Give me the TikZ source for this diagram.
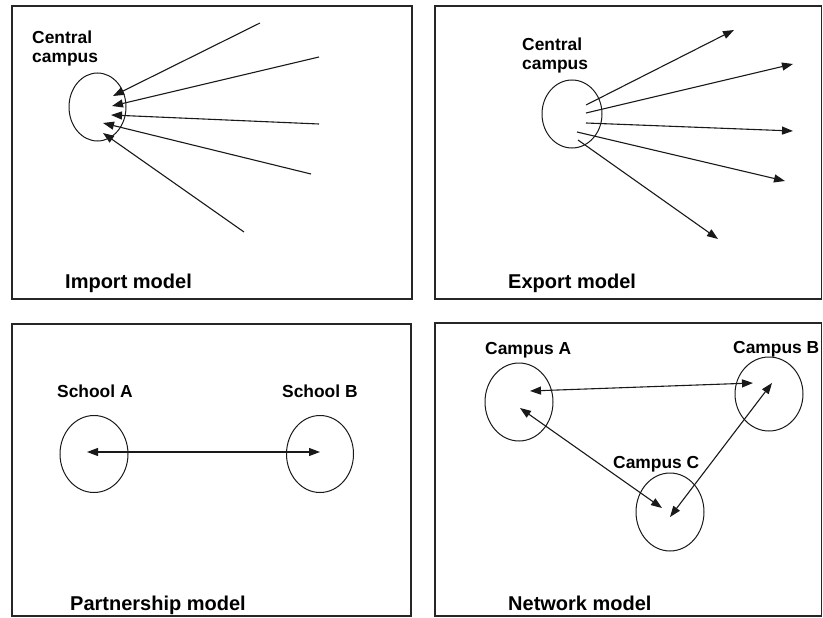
\documentclass[tikz,border=0pt]{standalone}
\usepackage{fontspec}
\setmainfont{Liberation Sans}
\usetikzlibrary{arrows.meta,shapes.geometric}

\begin{document}
\begin{tikzpicture}[x=1pt,y=-1pt,
  panel/.style={draw=black!85, line width=1.3pt},
  campus/.style={draw=black!90, ellipse, line width=1pt, inner sep=0pt},
  lbl/.style={font=\bfseries\fontsize{17.4}{19}\selectfont, anchor=base west, inner sep=0pt, align=left},
  title/.style={font=\bfseries\fontsize{20}{24}\selectfont, anchor=base west, inner sep=0pt},
  tip/.tip={Triangle[length=11pt,width=8pt]},
  link/.style={draw=black!90, line width=1.1pt, -tip},
  twoway/.style={draw=black!90, line width=1.1pt, tip-tip}]

\useasboundingbox (0,0) rectangle (823,618);

% ---------- Import model ----------
% (a multi-line label sits on the baseline of its last line)
\draw[panel] (12,6) rectangle (412,299);
\node[lbl] (impLabel) at (32,63) {Central\\campus};
\node[campus, minimum width=57pt, minimum height=68pt] (impHub) at (97.5,107) {};
\node[title] (impTitle) at (65,288) {Import model};
\coordinate (iA) at (260,23);  \coordinate (iAt) at (113,96);
\coordinate (iB) at (319,57);  \coordinate (iBt) at (112,106);
\coordinate (iC) at (319,124); \coordinate (iCt) at (111,115);
\coordinate (iD) at (311,174); \coordinate (iDt) at (103,123);
\coordinate (iE) at (244,232); \coordinate (iEt) at (103,133);
\foreach \s in {A,B,C,D,E} \draw[link] (i\s) -- (i\s t);

% ---------- Export model ----------
\draw[panel] (435,6) rectangle (821.5,299);
\node[lbl] (expLabel) at (522,70) {Central\\campus};
\node[campus, minimum width=60pt, minimum height=68pt] (expHub) at (572,114) {};
\node[title] (expTitle) at (508,288) {Export model};
\coordinate (eA) at (586,105); \coordinate (eAt) at (734,30);
\coordinate (eB) at (586,113); \coordinate (eBt) at (793,64);
\coordinate (eC) at (586,123); \coordinate (eCt) at (793,131);
\coordinate (eD) at (577,132); \coordinate (eDt) at (785,181);
\coordinate (eE) at (578,140); \coordinate (eEt) at (718,239);
\foreach \s in {A,B,C,D,E} \draw[link] (e\s) -- (e\s t);

% ---------- Partnership model ----------
\draw[panel] (12,324) rectangle (411,616);
\node[lbl] (schALabel) at (57,397) {School A};
\node[lbl] (schBLabel) at (282,397) {School B};
\node[campus, minimum width=68pt, minimum height=77pt] (schA) at (94,454) {};
\node[campus, minimum width=67pt, minimum height=77pt] (schB) at (320,454) {};
\node[title] (partTitle) at (70,610) {Partnership model};
\coordinate (pa) at (87,452);
\coordinate (pb) at (320,452);
\draw[twoway] (pa) -- (pb);

% ---------- Network model ----------
\draw[panel] (435,323) rectangle (821.5,616);
\node[lbl] (camALabel) at (485,354) {Campus A};
\node[lbl] (camBLabel) at (733,353) {Campus B};
\node[lbl] (camCLabel) at (613,468) {Campus C};
\node[campus, minimum width=68pt, minimum height=78pt] (camA) at (519,402) {};
\node[campus, minimum width=68pt, minimum height=74pt] (camB) at (769,394) {};
\node[campus, minimum width=68pt, minimum height=78pt] (camC) at (670,512) {};
\node[title] (netTitle) at (508,610) {Network model};
\coordinate (nAB) at (530,391); \coordinate (nBA) at (753,383);
\coordinate (nAC) at (520,408); \coordinate (nCA) at (662,508);
\coordinate (nBC) at (772,383); \coordinate (nCB) at (670,517);
\draw[twoway] (nAB) -- (nBA);
\draw[twoway] (nAC) -- (nCA);
\draw[twoway] (nBC) -- (nCB);
\end{tikzpicture}
\end{document}
